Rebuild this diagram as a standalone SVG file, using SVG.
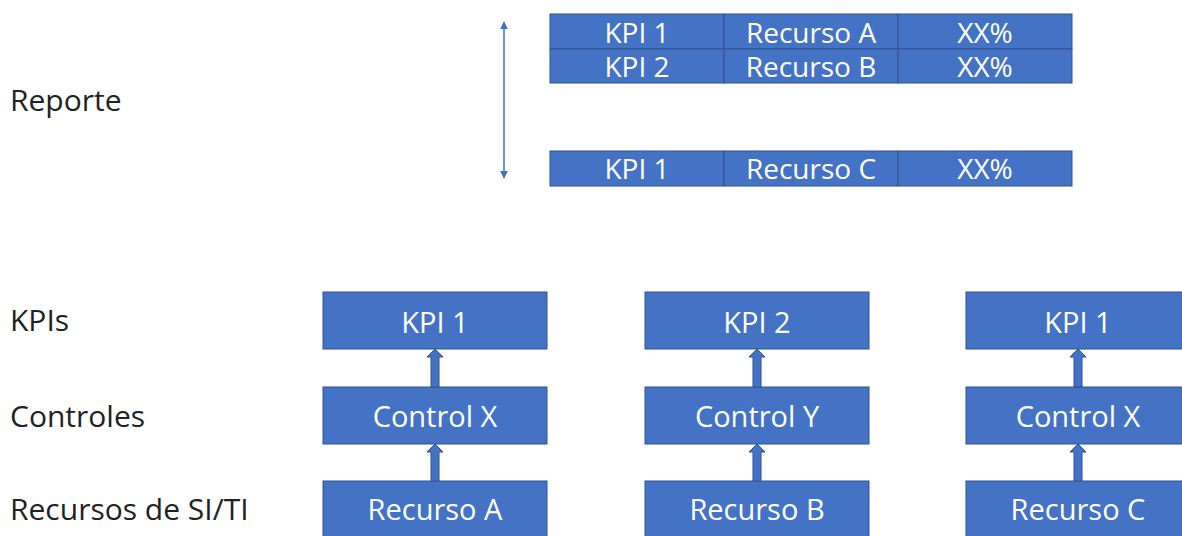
<svg xmlns="http://www.w3.org/2000/svg" width="1182" height="536" viewBox="0 0 1182 536">
<defs>
<style>
.box{fill:#4472C4;stroke:#2F528F;stroke-width:1}
.cell{fill:#4472C4;stroke:#2F528F;stroke-width:1}
.t{font-family:"Open Sans","Liberation Sans",sans-serif;font-size:29px;fill:#ffffff;text-anchor:middle}
.tt{font-family:"Open Sans","Liberation Sans",sans-serif;font-size:28px;fill:#ffffff;text-anchor:middle}
.lbl{font-family:"Open Sans","Liberation Sans",sans-serif;font-size:30px;fill:#222222}
.blk{fill:#4472C4;stroke:#2F528F;stroke-width:1}
.thin{stroke:#4472C4;stroke-width:1.5;fill:none}
</style>
<marker id="ah" viewBox="0 0 10 10" refX="9" refY="5" markerWidth="8" markerHeight="8" orient="auto-start-reverse" markerUnits="userSpaceOnUse">
<path d="M0,0 L10,5 L0,10 z" fill="#4472C4"/>
</marker>
</defs>
<rect width="1182" height="536" fill="#ffffff"/>

<g id="labels">
<text class="lbl" x="10" y="111">Reporte</text>
<text class="lbl" x="10" y="331">KPIs</text>
<text class="lbl" x="10" y="427">Controles</text>
<text class="lbl" x="10" y="520">Recursos de SI/TI</text>
</g>

<g id="report-table">
<rect class="cell" x="550" y="14" width="174" height="35"/>
<rect class="cell" x="724" y="14" width="174" height="35"/>
<rect class="cell" x="898" y="14" width="174" height="35"/>
<rect class="cell" x="550" y="49" width="174" height="34"/>
<rect class="cell" x="724" y="49" width="174" height="34"/>
<rect class="cell" x="898" y="49" width="174" height="34"/>
<rect class="cell" x="550" y="151" width="174" height="35"/>
<rect class="cell" x="724" y="151" width="174" height="35"/>
<rect class="cell" x="898" y="151" width="174" height="35"/>
<text class="tt" x="637" y="43">KPI 1</text>
<text class="tt" x="811" y="43">Recurso A</text>
<text class="tt" x="985" y="43">XX%</text>
<text class="tt" x="637" y="77">KPI 2</text>
<text class="tt" x="811" y="77">Recurso B</text>
<text class="tt" x="985" y="77">XX%</text>
<text class="tt" x="637" y="179">KPI 1</text>
<text class="tt" x="811" y="179">Recurso C</text>
<text class="tt" x="985" y="179">XX%</text>
</g>

<g id="n-kpi1a"><rect class="box" x="323" y="292" width="224" height="57"/><text class="t" x="435" y="333">KPI 1</text></g>
<g id="n-ctrlx-a"><rect class="box" x="323" y="387" width="224" height="57"/><text class="t" x="435" y="427">Control X</text></g>
<g id="n-recA"><rect class="box" x="323" y="481" width="224" height="60"/><text class="t" x="435" y="520">Recurso A</text></g>

<g id="n-kpi2"><rect class="box" x="645" y="292" width="224" height="57"/><text class="t" x="757" y="333">KPI 2</text></g>
<g id="n-ctrly"><rect class="box" x="645" y="387" width="224" height="57"/><text class="t" x="757" y="427">Control Y</text></g>
<g id="n-recB"><rect class="box" x="645" y="481" width="224" height="60"/><text class="t" x="757" y="520">Recurso B</text></g>

<g id="n-kpi1c"><rect class="box" x="966" y="292" width="224" height="57"/><text class="t" x="1078" y="333">KPI 1</text></g>
<g id="n-ctrlx-c"><rect class="box" x="966" y="387" width="224" height="57"/><text class="t" x="1078" y="427">Control X</text></g>
<g id="n-recC"><rect class="box" x="966" y="481" width="224" height="60"/><text class="t" x="1078" y="520">Recurso C</text></g>

<g id="connectors">
<line class="thin" x1="504" y1="22" x2="504" y2="178" marker-start="url(#ah)" marker-end="url(#ah)"/>
<polygon class="blk" points="431,387 431,357 427,357 435,349 443,357 439,357 439,387"/>
<polygon class="blk" points="431,481 431,452 427,452 435,444 443,452 439,452 439,481"/>
<polygon class="blk" points="753,387 753,357 749,357 757,349 765,357 761,357 761,387"/>
<polygon class="blk" points="753,481 753,452 749,452 757,444 765,452 761,452 761,481"/>
<polygon class="blk" points="1074,387 1074,357 1070,357 1078,349 1086,357 1082,357 1082,387"/>
<polygon class="blk" points="1074,481 1074,452 1070,452 1078,444 1086,452 1082,452 1082,481"/>
</g>
</svg>
